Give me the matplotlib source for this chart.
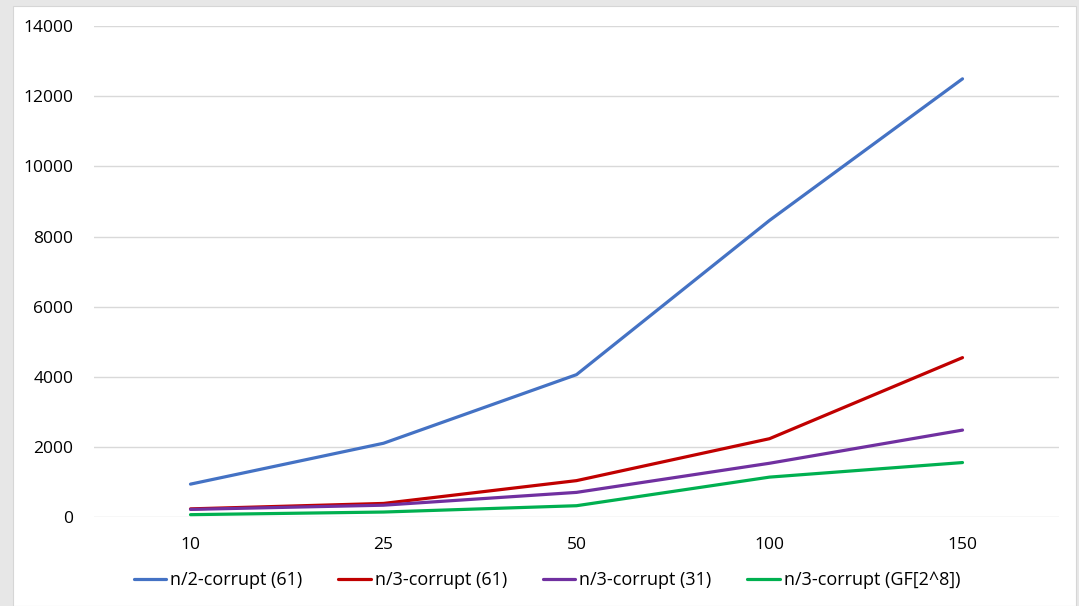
import matplotlib
matplotlib.use('Agg')
import matplotlib.pyplot as plt
from matplotlib.patches import Rectangle

categories = ['10', '25', '50', '100', '150']
n2_61 = [945, 2110, 4065, 8460, 12495]
n3_61 = [240, 395, 1045, 2240, 4550]
n3_31 = [225, 345, 710, 1540, 2485]
n3_gf = [75, 150, 330, 1145, 1560]

series = [
    ('n/2-corrupt (61)', n2_61, '#4472C4'),
    ('n/3-corrupt (61)', n3_61, '#C00000'),
    ('n/3-corrupt (31)', n3_31, '#7030A0'),
    ('n/3-corrupt (GF[2^8])', n3_gf, '#00B050'),
]

plt.rcParams['font.family'] = ['Open Sans', 'DejaVu Sans']

fig = plt.figure(figsize=(10.79, 6.06), dpi=100)
fig.patch.set_facecolor('#E7E7E7')
# white chart panel over the grey window background
fig.patches.append(Rectangle((13 / 1079, 0), (1076 - 13) / 1079, 1 - 6 / 606,
                             transform=fig.transFigure, facecolor='white',
                             edgecolor='#D6D6D6', linewidth=0.8, zorder=-10))

ax = fig.add_axes([94 / 1079, 1 - 517.3 / 606, (1059 - 94) / 1079, (517.3 - 26) / 606])
ax.set_facecolor('none')

x = range(len(categories))
for label, vals, col in series:
    ax.plot(x, vals, color=col, linewidth=2.3, label=label, solid_capstyle='round')

ax.set_xlim(-0.5, len(categories) - 0.5)
ax.set_ylim(0, 14000)
ax.set_yticks(range(0, 14001, 2000))
ax.set_xticks(list(x))
ax.set_xticklabels(categories)
ax.grid(axis='y', color='#D9D9D9', linewidth=1.0)
ax.set_axisbelow(True)
for s in ax.spines.values():
    s.set_visible(False)
ax.tick_params(axis='both', length=0, labelsize=12.5, colors='#000000')
ax.tick_params(axis='y', pad=15)
ax.tick_params(axis='x', pad=14)

fig.legend(loc='center left', bbox_to_anchor=(134 / 1079, 1 - 580 / 606),
           ncol=4, frameon=False, fontsize=13, handlelength=1.78,
           handletextpad=0.22, columnspacing=2.0, borderpad=0, borderaxespad=0)

fig.savefig('out.png', dpi=100, facecolor=fig.get_facecolor())
